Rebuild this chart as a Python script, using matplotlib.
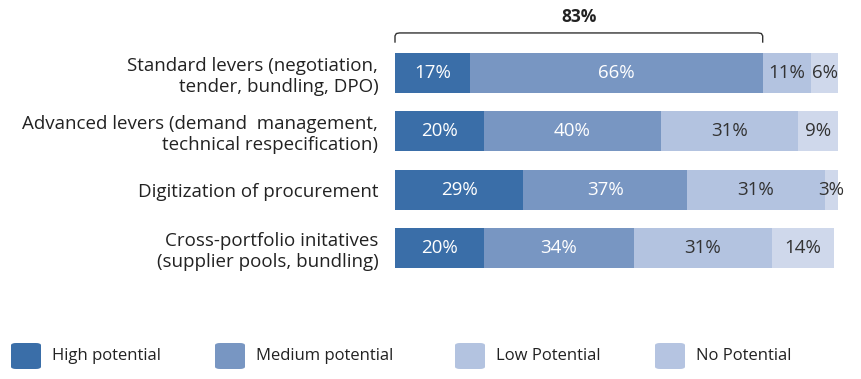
import matplotlib
matplotlib.use("Agg")
import matplotlib.pyplot as plt
from matplotlib.patches import FancyBboxPatch
import numpy as np

plt.rcParams['font.family'] = ['Open Sans', 'DejaVu Sans']

categories = [
    "Standard levers (negotiation,\ntender, bundling, DPO)",
    "Advanced levers (demand  management,\ntechnical respecification)",
    "Digitization of procurement",
    "Cross-portfolio initatives\n(supplier pools, bundling)",
]
series_names = ["High potential", "Medium potential", "Low Potential", "No Potential"]
high = [17, 20, 29, 20]
medium = [66, 40, 37, 34]
low = [11, 31, 31, 31]
none_ = [6, 9, 3, 14]
bracket_total = 83

bar_colors = ["#3A6EA8", "#7896C2", "#B3C3E0", "#CFD8EB"]
legend_colors = ["#3A6EA8", "#7896C2", "#B3C3E0", "#B5C4E1"]
text_colors = ["white", "white", "#333333", "#333333"]

fig = plt.figure(figsize=(8.61, 3.79), dpi=100)
ax = fig.add_axes([395/861, 1-277/379, (838-395)/861, (277-44)/379])

series = [high, medium, low, none_]
y = np.arange(len(categories))
left = np.zeros(len(categories))
for vals, col, tc in zip(series, bar_colors, text_colors):
    vals = np.array(vals, dtype=float)
    ax.barh(y, vals, left=left, height=0.69, color=col, edgecolor='none')
    for yi, (l, v) in enumerate(zip(left, vals)):
        ax.text(l + v/2, yi, f"{int(v)}%", ha='center', va='center',
                color=tc, fontsize=13.5)
    left += vals

ax.set_xlim(0, 100)
ax.set_ylim(3.5, -0.5)
ax.set_yticks(y)
ax.set_yticklabels(categories, fontsize=13.5, color="#222222", linespacing=1.2)
ax.tick_params(axis='y', length=0, pad=12)
ax.set_xticks([])
for s in ax.spines.values():
    s.set_visible(False)
for lbl in ax.get_yticklabels():
    lbl.set_horizontalalignment('right')
    lbl.set_multialignment('right')

# bracket
ytop = (33-73)/58
yend = (42-73)/58
r = 1.0
bx = [0, 0, 0.3, r, bracket_total - r, bracket_total - 0.3, bracket_total, bracket_total]
by = [yend, ytop + 0.05, ytop + 0.01, ytop, ytop, ytop + 0.01, ytop + 0.05, yend]
ax.plot(bx, by, color="#333333", lw=1.0, clip_on=False, solid_joinstyle='round')
ax.text(bracket_total/2, (17-73)/58, f"{bracket_total}%", ha='center', va='center',
        fontsize=12.5, fontweight='bold', color="#222222")

# legend
leg_x = [11, 215, 455, 655]
for xp, name, col in zip(leg_x, series_names, legend_colors):
    box = FancyBboxPatch(((xp)/861, 1-369/379), 30/861, 26/379,
                         boxstyle="round,pad=0,rounding_size=0.006",
                         transform=fig.transFigure, facecolor=col, edgecolor='none')
    fig.patches.append(box)
    fig.text((xp+41)/861, 1-356/379, name, ha='left', va='center', fontsize=12, color="#222222")

fig.savefig("out.png", dpi=100)
